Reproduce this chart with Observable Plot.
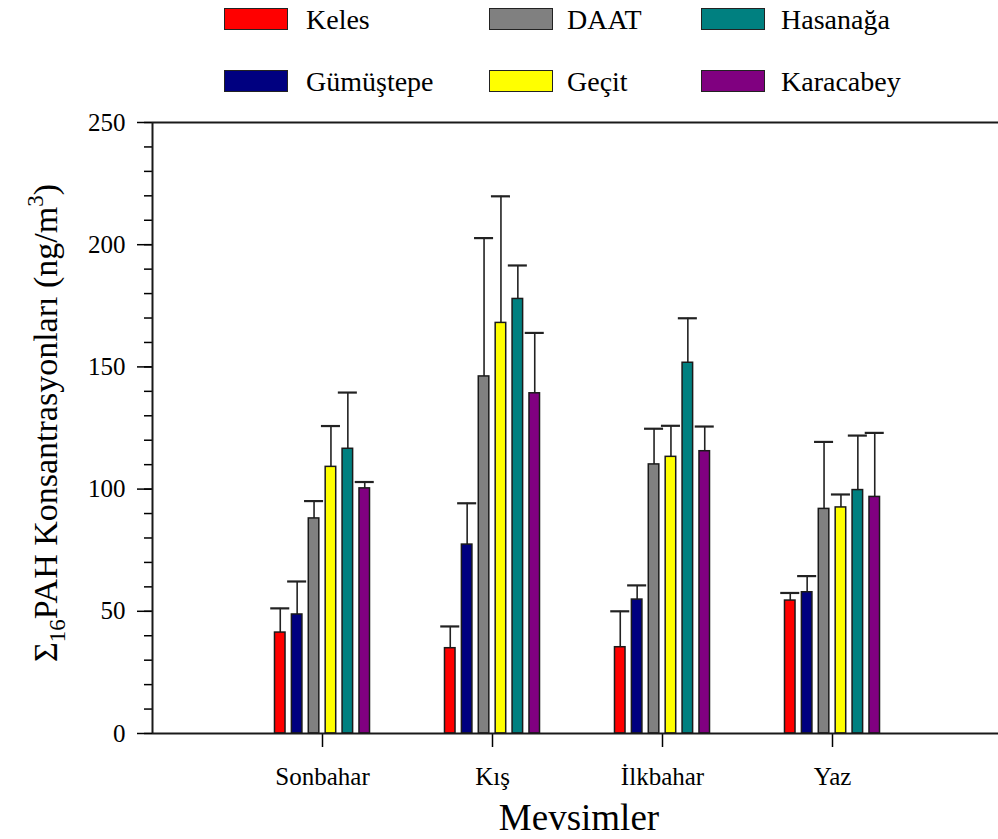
<!DOCTYPE html>
<html><head><meta charset="utf-8">
<script src="https://cdn.jsdelivr.net/npm/d3@7"></script>
<script src="https://cdn.jsdelivr.net/npm/@observablehq/plot@0.6"></script>
<style>
body{margin:0;background:#fff;font-family:"Liberation Serif",serif;}
#legend{position:relative;width:998px;height:100px;}
.sw{position:absolute;width:62px;height:20px;border:1.5px solid #222;}
.lb{position:absolute;font-family:"Liberation Serif",serif;font-size:28px;line-height:28px;color:#000;white-space:nowrap;}
svg{display:block}
</style></head><body>
<div id="legend"></div>
<div id="chart"></div>
<script>
// ---- data ----
const seasons = ["Sonbahar", "Kış", "İlkbahar", "Yaz"];
const sites = ["Keles", "Gümüştepe", "DAAT", "Geçit", "Hasanağa", "Karacabey"];
const siteColors = ["#ff0000", "#000080", "#808080", "#ffff00", "#008080", "#800080"];
// mean concentrations per season (order of sites)
const meanSonbahar = [41.3, 48.7, 88.0, 109.1, 116.5, 100.3];
const meanKis      = [34.9, 77.3, 146.1, 168.0, 177.8, 139.2];
const meanIlkbahar = [35.3, 54.8, 110.1, 113.2, 151.7, 115.5];
const meanYaz      = [54.4, 57.8, 91.9, 92.5, 99.6, 96.8];
// standard deviations (error bar length)
const errSonbahar = [9.9, 13.5, 7.1, 16.7, 23.0, 2.6];
const errKis      = [8.9, 16.9, 56.6, 51.8, 13.7, 24.7];
const errIlkbahar = [14.7, 5.8, 14.6, 12.7, 18.2, 10.1];
const errYaz      = [3.1, 6.6, 27.4, 5.3, 22.3, 26.2];
const yTicksMajor = [0, 50, 100, 150, 200, 250];

const means = [meanSonbahar, meanKis, meanIlkbahar, meanYaz];
const errs = [errSonbahar, errKis, errIlkbahar, errYaz];
const rows = seasons.flatMap((season, i) => sites.map((site, j) => ({
  season, si: i, site, sj: j, value: means[i][j], err: errs[i][j]
})));

// ---- layout ----
const groupStep = 0.0994, barHalf = 0.031, capHalf = 0.056;
const xMax = (998 - 152) / 170;
const pos = d => d.si + 1 + (d.sj - 2.5) * groupStep;

// ---- legend ----
const legend = document.getElementById("legend");
const colX = [[224, 306], [489, 567], [701, 781]];
const rowY = [[8, 6], [70, 68]];
sites.forEach((s, j) => {
  const c = Math.floor(j / 2), r = j % 2;
  const sw = document.createElement("div");
  sw.className = "sw";
  sw.style.left = colX[c][0] + "px"; sw.style.top = rowY[r][0] + "px";
  sw.style.background = siteColors[j];
  legend.appendChild(sw);
  const lb = document.createElement("div");
  lb.className = "lb";
  lb.style.left = colX[c][1] + "px"; lb.style.top = rowY[r][1] + "px";
  lb.textContent = s;
  legend.appendChild(lb);
});

const chart = Plot.plot({
  width: 998, height: 739,
  marginLeft: 152, marginRight: 0, marginTop: 22, marginBottom: 106,
  x: {domain: [0, xMax]},
  y: {domain: [0, 250]},
  color: {domain: sites, range: siteColors},
  style: {fontFamily: "Liberation Serif", fontSize: "25px", color: "#000", background: "#fff", overflow: "visible"},
  marks: [
    Plot.axisY(d3.range(0, 251, 10), {tickSize: 8, tickFormat: () => "", strokeWidth: 1.5, label: null}),
    Plot.axisY(yTicksMajor, {tickSize: 15, tickPadding: 12, fontSize: 25, strokeWidth: 1.5, label: null}),
    Plot.axisX([1, 2, 3, 4], {tickSize: 14, tickPadding: 20, fontSize: 25, strokeWidth: 1.5, label: null, tickFormat: i => seasons[i - 1]}),
    Plot.ruleX(rows, {x: pos, y1: "value", y2: d => d.value + d.err, stroke: "#222", strokeWidth: 1.6}),
    Plot.ruleY(rows, {y: d => d.value + d.err, x1: d => pos(d) - capHalf, x2: d => pos(d) + capHalf, stroke: "#222", strokeWidth: 2.2}),
    Plot.rectY(rows, {x1: d => pos(d) - barHalf, x2: d => pos(d) + barHalf, y1: 0, y2: "value", fill: "site", stroke: "#1a1a1a", strokeWidth: 1.5}),
    Plot.ruleX([0], {y1: 0, y2: 250, stroke: "#1a1a1a", strokeWidth: 2}),
    Plot.ruleY([0, 250], {stroke: "#1a1a1a", strokeWidth: 2})
  ]
});
document.getElementById("chart").appendChild(chart);

const svg = d3.select(chart);
const yl = svg.append("text")
  .attr("transform", "translate(57,323) rotate(-90)")
  .attr("text-anchor", "middle")
  .attr("fill", "#000")
  .style("font-family", "Liberation Serif")
  .style("font-size", "34px");
yl.append("tspan").text("Σ");
yl.append("tspan").attr("dy", 8).style("font-size", "23px").text("16");
yl.append("tspan").attr("dy", -8).text("PAH Konsantrasyonları (ng/m");
yl.append("tspan").attr("dy", -14).style("font-size", "23px").text("3");
yl.append("tspan").attr("dy", 14).text(")");

svg.append("text")
  .attr("x", 579).attr("y", 730)
  .attr("text-anchor", "middle")
  .attr("fill", "#000")
  .style("font-family", "Liberation Serif")
  .style("font-size", "37px")
  .text("Mevsimler");
</script>
</body></html>
